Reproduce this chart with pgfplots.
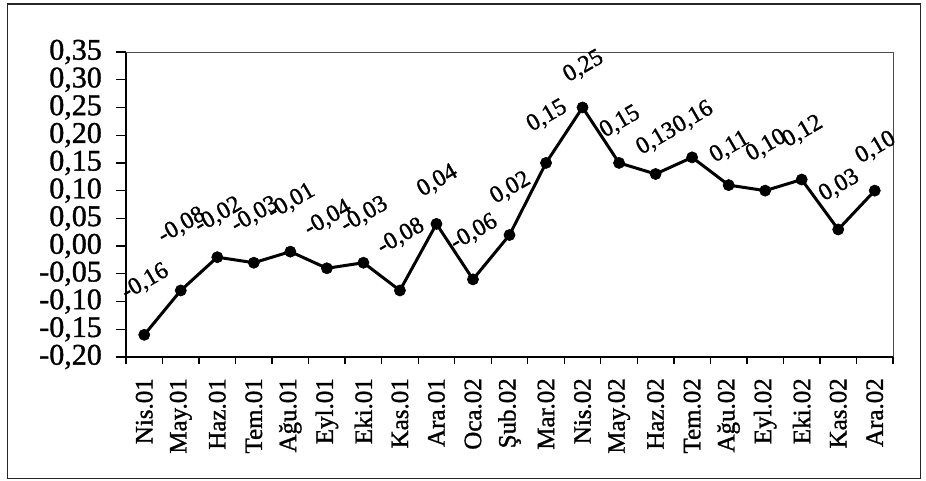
\documentclass[border=0pt]{standalone}
\usepackage{pgfplots}
\usepackage{pgfplotstable}
\pgfplotsset{compat=1.18}
\usepackage{fontspec}
\setmainfont{Liberation Serif}[FakeBold=1.2]

% monthly change, April 2001 - December 2002
% dy: distance of each value label above its point
\pgfplotstableread{
x y lab dy
0 -0.16 -0,16 53
1 -0.08 -0,08 65
2 -0.02 -0,02 42
3 -0.03 -0,03 48
4 -0.01 -0,01 50
5 -0.04 -0,04 50
6 -0.03 -0,03 48
7 -0.08 -0,08 54
8 0.04 0,04 43
9 -0.06 -0,06 47
10 0.02 0,02 47
11 0.15 0,15 47
12 0.25 0,25 41
13 0.15 0,15 41
14 0.13 0,13 35
15 0.16 0,16 40
16 0.11 0,11 38
17 0.10 0,10 45
18 0.12 0,12 48
19 0.03 0,03 44
20 0.10 0,10 43
}\data

\begin{document}
\begin{tikzpicture}[x=1pt,y=1pt]
\useasboundingbox (0,0) rectangle (926,480);
\draw[line width=1.2pt, black!85] (7.5,1.5) rectangle (920.5,476);
\begin{axis}[
  at={(126pt,123pt)}, anchor=south west,
  scale only axis, width=767pt, height=305pt,
  xmin=-0.5, xmax=20.5, ymin=-0.2, ymax=0.35,
  axis x line*=bottom, axis y line*=left,
  axis line style={line width=1.8pt, -},
  tick align=outside,
  xtick={0,...,20},
  xticklabels={Nis.01,May.01,Haz.01,Tem.01,Ağu.01,Eyl.01,Eki.01,Kas.01,Ara.01,Oca.02,Şub.02,Mar.02,Nis.02,May.02,Haz.02,Tem.02,Ağu.02,Eyl.02,Eki.02,Kas.02,Ara.02},
  minor xtick={-0.5,0.5,...,20.5},
  major x tick style={draw=none},
  minor x tick style={line width=1.3pt, black},
  minor tick length=7pt,
  major tick length=10pt,
  y tick style={line width=1.3pt, black},
  ytick={-0.2,-0.15,-0.1,-0.05,0,0.05,0.1,0.15,0.2,0.25,0.3,0.35},
  xticklabel style={font=\fontsize{25}{25}\selectfont, yshift=-11pt, inner sep=0pt, rotate=90, anchor=east},
  yticklabel style={font=\fontsize{30}{30}\selectfont, inner sep=0pt, xshift=-14pt,
    /pgf/number format/.cd, fixed, fixed zerofill, precision=2, use comma, assume math mode=true},
  clip=false,
]
\draw[line width=0.8pt, black!70] (rel axis cs:0,1) -- (rel axis cs:1,1) -- (rel axis cs:1,0);
\addplot[black, line width=3pt, mark=*, mark size=5.6pt,
  mark options={solid, fill=black, line width=0.6pt},
  visualization depends on={\thisrow{dy} \as \labdy},
  nodes near coords, point meta=explicit symbolic,
  nodes near coords style={font=\fontsize{24}{24}\selectfont, anchor=center, inner sep=0pt,
    xshift=1pt, yshift=\labdy pt, rotate=30}]
  table[x=x, y=y, meta=lab] {\data};
\end{axis}
\end{tikzpicture}
\end{document}
